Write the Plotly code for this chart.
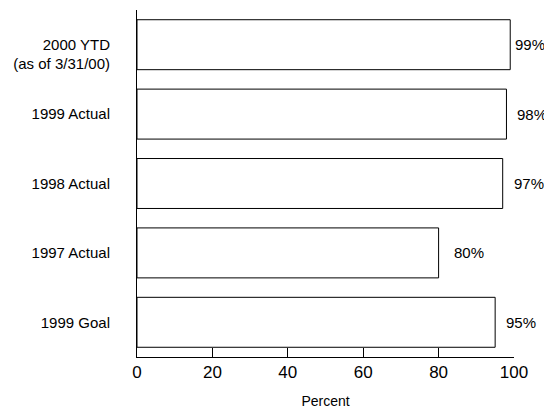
import plotly.graph_objects as go

categories = ["2000 YTD (as of 3/31/00)", "1999 Actual", "1998 Actual", "1997 Actual", "1999 Goal"]
category_labels = [" <br>2000 YTD<br>(as of 3/31/00)", "1999 Actual", "1998 Actual", "1997 Actual", "1999 Goal"]
values = [99, 98, 97, 80, 95]
value_labels = ["99%", "98%", "97%", "80%", "95%"]
label_shift = [3, 9, 9, 13, 9]
x_ticks = [0, 20, 40, 60, 80, 100]

FONT = "Liberation Sans, Arial, sans-serif"

fig = go.Figure()
fig.add_trace(go.Bar(
    x=values, y=categories, orientation="h",
    marker=dict(color="white", line=dict(color="black", width=1)),
    width=0.72, hoverinfo="skip",
))

for c, v, t, s in zip(categories, values, value_labels, label_shift):
    fig.add_annotation(x=v, y=c, text=t, showarrow=False, xanchor="left",
                       xshift=s, font=dict(size=15, color="black", family=FONT))

fig.update_layout(
    width=544, height=409,
    margin=dict(l=137, r=30, t=10, b=52, autoexpand=False),
    paper_bgcolor="white", plot_bgcolor="white",
    showlegend=False,
    font=dict(family=FONT, color="black"),
    xaxis=dict(range=[0, 100], tickvals=x_ticks, ticks="inside", ticklen=9,
               tickcolor="black", showline=True, linecolor="black", linewidth=1,
               showgrid=False, zeroline=False, tickfont=dict(size=17),
               automargin=False,
               title=dict(text="Percent", font=dict(size=14), standoff=20)),
    yaxis=dict(categoryorder="array", categoryarray=categories, autorange="reversed",
               tickvals=categories, ticktext=category_labels, automargin=False,
               showline=True, linecolor="black", linewidth=1, showgrid=False,
               ticks="", ticklabelstandoff=23, tickfont=dict(size=15)),
)

fig.write_html("out.html", config={"displayModeBar": False},
               post_script="document.body.style.margin='0';document.body.style.overflow='hidden';")
